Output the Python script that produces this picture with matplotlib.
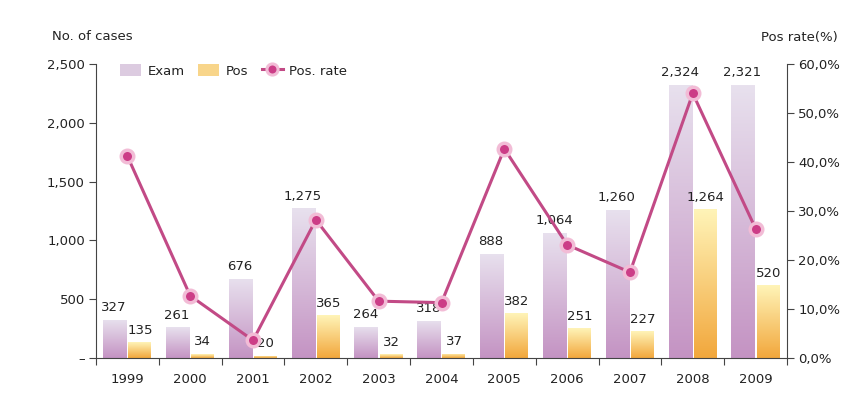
import numpy as np
import matplotlib
matplotlib.use("Agg")
import matplotlib.pyplot as plt
from matplotlib.colors import LinearSegmentedColormap
from matplotlib.lines import Line2D
from matplotlib.patches import Patch

years = ["1999", "2000", "2001", "2002", "2003", "2004", "2005", "2006", "2007", "2008", "2009"]
exam = [327, 261, 676, 1275, 264, 318, 888, 1064, 1260, 2324, 2321]
exam_labels = ["327", "261", "676", "1,275", "264", "318", "888", "1,064", "1,260", "2,324", "2,321"]
pos = [135, 34, 20, 365, 32, 37, 382, 251, 227, 1264, 620]
pos_labels = ["135", "34", "20", "365", "32", "37", "382", "251", "227", "1,264", "520"]
pos_rate = [41.2, 12.7, 3.6, 28.2, 11.6, 11.3, 42.7, 23.1, 17.5, 54.0, 26.4]
left_ticks = [0, 500, 1000, 1500, 2000, 2500]
left_tick_labels = ["\u2013", "500", "1,000", "1,500", "2,000", "2,500"]
right_ticks = [0, 10, 20, 30, 40, 50, 60]
right_tick_labels = ["0,0%", "10,0%", "20,0%", "30,0%", "40,0%", "50,0%", "60,0%"]

plt.rcParams['font.family'] = ['DejaVu Sans']
TXT = '#222222'
AX = '#444444'
FS = 9.5

fig = plt.figure(figsize=(8.65, 4.03), dpi=100)
ax = fig.add_axes([96/865, 1-358/403, (787-96)/865, (358-64)/403])
ax2 = ax.twinx()

x = np.arange(len(years))
w = 0.38
exam_cmap = LinearSegmentedColormap.from_list('exam', ['#c493c3', '#e8e1ee'])
pos_cmap = LinearSegmentedColormap.from_list('pos', ['#f2a73c', '#fff4b8'])
grad = np.linspace(0, 1, 256).reshape(-1, 1)

def grad_bars(bars, cmap):
    for r in bars:
        bx, by = r.get_xy()
        bw, bh = r.get_width(), r.get_height()
        r.set_facecolor('none')
        r.set_edgecolor('none')
        im = ax.imshow(grad, extent=[bx, bx + bw, by, by + bh], origin='lower',
                       cmap=cmap, aspect='auto', zorder=2, interpolation='bilinear')
        im.set_clip_path(r)

b1 = ax.bar(x - w/2 - 0.005, exam, w, zorder=2)
b2 = ax.bar(x + w/2 + 0.005, pos, w * 0.95, zorder=2)
grad_bars(b1, exam_cmap)
grad_bars(b2, pos_cmap)

for i in range(len(years)):
    ax.annotate(exam_labels[i], (x[i] - w/2 - 0.02, exam[i]), xytext=(0, 4), textcoords='offset points',
                ha='center', va='bottom', fontsize=FS, color=TXT, zorder=3)
    ax.annotate(pos_labels[i], (x[i] + w/2 + 0.01, pos[i]), xytext=(0, 4), textcoords='offset points',
                ha='center', va='bottom', fontsize=FS, color=TXT, zorder=3)

ax.set_xlim(-0.5, len(years) - 0.5)
ax.set_ylim(0, 2500)
ax.set_yticks(left_ticks)
ax.set_yticklabels(left_tick_labels)
ax.set_xticks(np.arange(len(years) + 1) - 0.5)
ax.set_xticklabels([])
ax.set_xticks(x, minor=True)
ax.set_xticklabels(years, minor=True)
ax.tick_params(axis='x', which='minor', length=0, pad=11, labelsize=FS, colors=TXT)
ax.tick_params(axis='x', which='major', direction='out', length=5, color=AX, width=0.8)
ax.tick_params(axis='y', length=5, color=AX, labelsize=FS, labelcolor=TXT, pad=3, width=0.8)

for s in ['top', 'right']:
    ax.spines[s].set_visible(False)
for s in ['left', 'bottom']:
    ax.spines[s].set_color(AX)
    ax.spines[s].set_linewidth(0.8)

ax2.set_ylim(0, 60)
ax2.set_yticks(right_ticks)
ax2.set_yticklabels(right_tick_labels)
ax2.tick_params(axis='y', length=5, color=AX, labelsize=FS, labelcolor=TXT, pad=3, width=0.8)
for s in ['top', 'left', 'bottom']:
    ax2.spines[s].set_visible(False)
ax2.spines['right'].set_color(AX)
ax2.spines['right'].set_linewidth(0.8)

ax2.plot(x, pos_rate, color='#c24a86', lw=2.2, zorder=4,
         marker='o', markersize=9, markerfacecolor='#cc3d87',
         markeredgecolor='#f2bcd6', markeredgewidth=2.5)
ax2.set_zorder(ax.get_zorder() + 1)
ax2.patch.set_visible(False)

handles = [Patch(facecolor='#dccbe0', edgecolor='none'),
           Patch(facecolor='#f8d58a', edgecolor='none'),
           Line2D([0], [0], color='#c24a86', lw=2.2, marker='o', markersize=8,
                  markerfacecolor='#cc3d87', markeredgecolor='#f2bcd6', markeredgewidth=2.2)]
ax2.legend(handles, ['Exam', 'Pos', 'Pos. rate'], loc='upper left', bbox_to_anchor=(0.018, 1.04),
           ncol=3, frameon=False, fontsize=FS, handlelength=1.6, handleheight=1.0,
           columnspacing=1.0, handletextpad=0.5, labelcolor=TXT)

fig.text(52/865, 1-37/403, 'No. of cases', fontsize=FS, color=TXT, ha='left', va='center')
fig.text(838/865, 1-37/403, 'Pos rate(%)', fontsize=FS, color=TXT, ha='right', va='center')

fig.savefig('out.png', dpi=100)
